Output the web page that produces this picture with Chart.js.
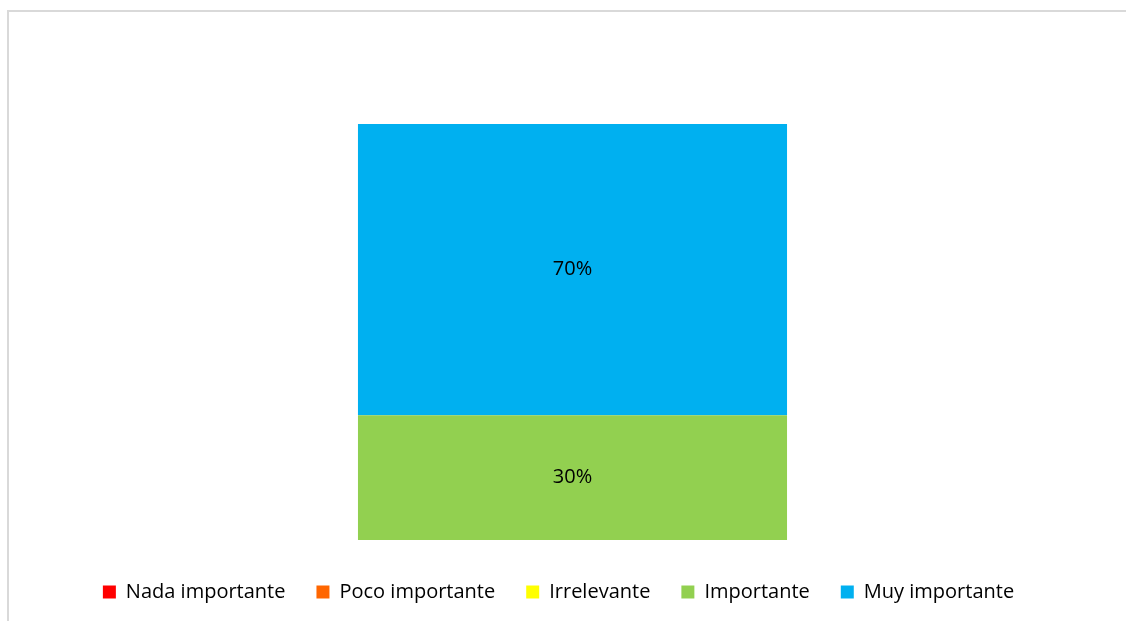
<!DOCTYPE html>
<html>
<head>
<meta charset="utf-8">
<script src="https://cdn.jsdelivr.net/npm/chart.js@4"></script>
<style>
    html, body { margin: 0; padding: 0; background: #fff; overflow: hidden; }
    .frame {
        position: absolute; left: 7px; top: 10px; width: 1200px; height: 700px;
        border-top: 2px solid #d9d9d9; border-left: 2px solid #d9d9d9;
    }
    .chart-box { position: absolute; left: 0; top: 0; width: 1126px; height: 615px; }
</style>
</head>
<body>
<div class="frame"></div>
<div class="chart-box"><canvas id="grafico"></canvas></div>
<script>
    // --- dados ---
    const categorias = [''];
    const series = ['Nada importante', 'Poco importante', 'Irrelevante', 'Importante', 'Muy importante'];
    const valores = [0, 0, 0, 30, 70];
    const cores = ['#ff0000', '#ff6600', '#ffff00', '#92d050', '#00b0f0'];

    const fonte = '"Open Sans", Lato, sans-serif';

    // rótulos de porcentagem no meio de cada segmento
    const rotulosPlugin = {
        id: 'rotulos',
        afterDatasetsDraw(chart) {
            const ctx = chart.ctx;
            ctx.save();
            ctx.font = '20px ' + fonte;
            ctx.fillStyle = '#000';
            ctx.textAlign = 'center';
            ctx.textBaseline = 'middle';
            chart.data.datasets.forEach((ds, i) => {
                const meta = chart.getDatasetMeta(i);
                meta.data.forEach((bar, j) => {
                    const v = ds.data[j];
                    if (!v) return;
                    ctx.fillText(v + '%', bar.x, (bar.y + bar.base) / 2);
                });
            });
            ctx.restore();
        }
    };

    const datasets = series.map((nome, i) => ({
        label: nome,
        data: [valores[i]],
        backgroundColor: cores[i],
        borderWidth: 0,
        categoryPercentage: 1,
        barPercentage: 0.394
    }));

    new Chart(document.getElementById('grafico'), {
        type: 'bar',
        data: { labels: categorias, datasets: datasets },
        options: {
            responsive: true,
            maintainAspectRatio: false,
            animation: false,
            layout: { padding: { top: 124, left: 0, right: 9, bottom: 3 } },
            plugins: {
                tooltip: { enabled: false },
                legend: {
                    position: 'bottom',
                    labels: {
                        boxWidth: 13,
                        boxHeight: 13,
                        padding: 31,
                        color: '#000',
                        font: { family: fonte, size: 20 }
                    }
                }
            },
            scales: {
                x: {
                    stacked: true,
                    grid: { display: false },
                    border: { display: false },
                    ticks: { display: false },
                    afterFit: (s) => { s.height = 11; }
                },
                y: {
                    stacked: true,
                    min: 0,
                    max: 100,
                    grid: { display: false },
                    border: { display: false },
                    ticks: { display: false },
                    afterFit: (s) => { s.width = 28; }
                }
            }
        },
        plugins: [rotulosPlugin]
    });
</script>
</body>
</html>
